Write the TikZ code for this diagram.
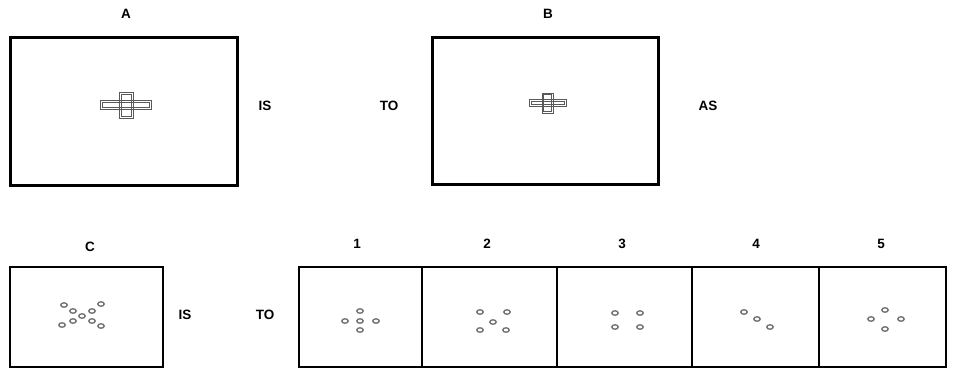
\documentclass[tikz,border=0pt]{standalone}
\usepackage{fontspec}
\setmainfont{Liberation Sans}
\begin{document}
\begin{tikzpicture}[x=1pt,y=-1pt,
  bigbox/.style={draw=black,line width=2.8pt,inner sep=0pt,anchor=north west},
  smallbox/.style={draw=black,line width=1.8pt,inner sep=0pt,anchor=north west},
  lbl/.style={font=\bfseries\fontsize{13.5}{13.5}\selectfont,inner sep=0pt},
  bar/.style={draw=black!65,line width=0.7pt},
  ring/.style={draw=black!55,line width=1.4pt}]
\useasboundingbox (0,0) rectangle (955,369);
% top row
\node[bigbox,minimum width=227pt,minimum height=148pt] (boxA) at (9,36) {};
\node[bigbox,minimum width=226pt,minimum height=147pt] (boxB) at (431,36) {};
\node[lbl] (labA) at (126,14) {A};
\node[lbl] (labB) at (548,14) {B};
\node[lbl] (is1) at (265,106) {IS};
\node[lbl] (to1) at (389,106) {TO};
\node[lbl] (as1) at (708,106) {AS};
% crosses (double-outlined bars)
\draw[bar] (100,100.5) rectangle (151.5,109);
\draw[bar] (102,102.3) rectangle (149.5,107.2);
\draw[bar] (119,92) rectangle (133,118);
\draw[bar] (121,94) rectangle (131,116);
\draw[bar] (529.5,99.5) rectangle (566,106.5);
\draw[bar] (531.2,101.2) rectangle (564.3,104.8);
\draw[bar] (542,93) rectangle (553,113);
\draw[bar] (543.8,94.8) rectangle (551.2,111.2);
% bottom row
\node[smallbox,minimum width=153pt,minimum height=100pt] (boxC) at (9,266) {};
\node[lbl] (labC) at (90,247) {C};
\node[lbl] (is2) at (185,315) {IS};
\node[lbl] (to2) at (265,315) {TO};
\node[smallbox,minimum width=123pt,minimum height=100pt] (opt1) at (298,266) {};
\node[smallbox,minimum width=135pt,minimum height=100pt] (opt2) at (421,266) {};
\node[smallbox,minimum width=135pt,minimum height=100pt] (opt3) at (556,266) {};
\node[smallbox,minimum width=127pt,minimum height=100pt] (opt4) at (691,266) {};
\node[smallbox,minimum width=127pt,minimum height=100pt] (opt5) at (818,266) {};
\node[lbl] (n1) at (357,244) {1};
\node[lbl] (n2) at (487,244) {2};
\node[lbl] (n3) at (622,244) {3};
\node[lbl] (n4) at (756,244) {4};
\node[lbl] (n5) at (881,244) {5};
% dots C
\foreach \p in {(64,305),(101,304),(73,311),(92,311),(82,316),(73,321),(92,321),(62,325),(101,326)}
  \draw[ring] \p ellipse (3.2pt and 2.2pt);
% option 1
\foreach \p in {(360,311),(345,321),(360,321),(376,321),(360,330)}
  \draw[ring] \p ellipse (3.2pt and 2.2pt);
% option 2
\foreach \p in {(480,312),(507,312),(493,322),(480,330),(506,330)}
  \draw[ring] \p ellipse (3.2pt and 2.2pt);
% option 3
\foreach \p in {(615,313),(640,313),(615,327),(640,327)}
  \draw[ring] \p ellipse (3.2pt and 2.2pt);
% option 4
\foreach \p in {(744,312),(757,319),(770,327)}
  \draw[ring] \p ellipse (3.2pt and 2.2pt);
% option 5
\foreach \p in {(885,310),(871,319),(901,319),(885,329)}
  \draw[ring] \p ellipse (3.2pt and 2.2pt);
\end{tikzpicture}
\end{document}
